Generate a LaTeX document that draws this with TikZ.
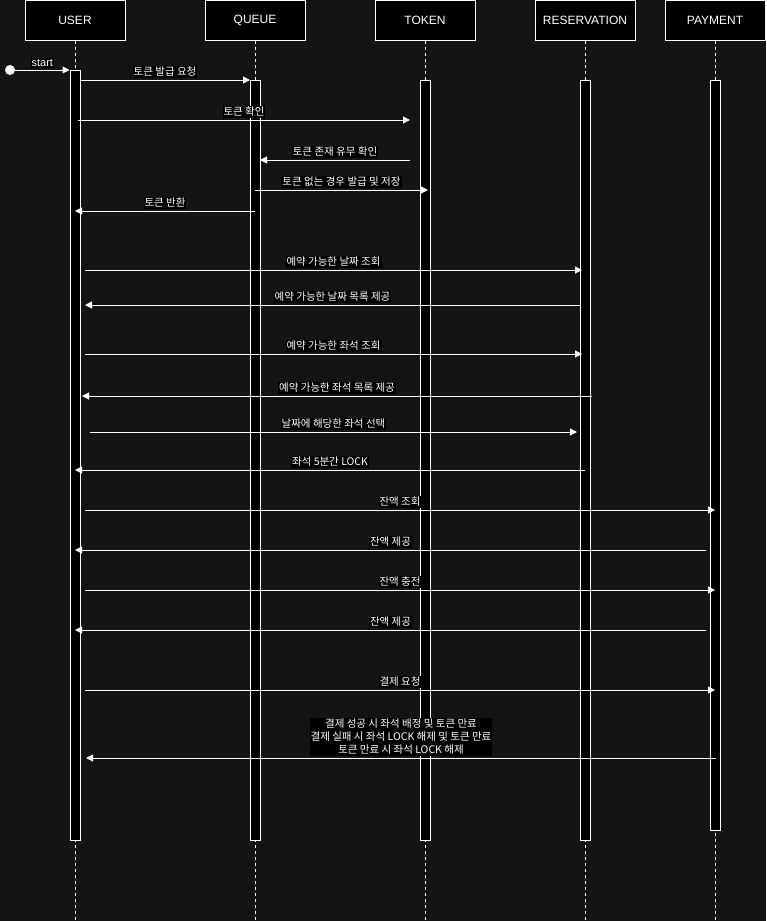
\documentclass[tikz,border=0pt]{standalone}
\usepackage{fontspec}
\setmainfont{Liberation Sans}
\newfontfamily\kr{Noto Sans CJK KR}
\usetikzlibrary{arrows.meta,positioning}
\definecolor{canvas}{RGB}{20,20,20}

\begin{document}
\begin{tikzpicture}[
  x=1pt, y=-1pt,
  >={Triangle[length=7pt,width=7pt]},
  actor/.style={draw=white, fill=black, line width=1pt, minimum width=100pt,
                minimum height=40pt, text=white, font=\fontsize{12}{14}\selectfont},
  bar/.style={draw=white, fill=black, line width=1pt, minimum width=10pt,
              anchor=north, inner sep=0pt},
  life/.style={draw=white, line width=0.8pt, dash pattern=on 3pt off 3pt},
  msg/.style={draw=white, line width=1pt, ->},
  lbl/.style={fill=black, text=white, inner sep=1pt, above=2pt, align=center,
              font=\kr\fontsize{10.5}{13}\selectfont}
]
\fill[canvas] (0,0) rectangle (766,921);
\useasboundingbox (0,0) rectangle (766,921);
\coordinate (bottom) at (0,921);

% participants
\node[actor] (user)        at (75,20.5)  {USER};
\node[actor] (queue)       at (255,20.5) {QUEUE};
\node[actor] (token)       at (425,20.5) {TOKEN};
\node[actor] (reservation) at (585,20.5) {RESERVATION};
\node[actor] (payment)     at (715,20.5) {PAYMENT};

\foreach \p in {user,queue,token,reservation,payment}
  \draw[life] (\p.south) -- (\p.south |- bottom);

% activations
\node[bar, minimum height=770pt] (userbar)        at (75,70)  {};
\node[bar, minimum height=760pt] (queuebar)       at (255,80) {};
\node[bar, minimum height=760pt] (tokenbar)       at (425,80) {};
\node[bar, minimum height=760pt] (reservationbar) at (585,80) {};
\node[bar, minimum height=750pt] (paymentbar)     at (715,80) {};

% start
\node[circle, fill=white, minimum size=10pt, inner sep=0pt] (start) at (10,70) {};
\draw[msg] (start) -- node[lbl, font=\fontsize{11}{13}\selectfont] {start} (userbar.north west);

% message ends
\coordinate (m1a) at (80,80);    \coordinate (m1b) at (250,80);
\coordinate (m2a) at (78,120);   \coordinate (m2b) at (410,120);
\coordinate (m3a) at (410,160);  \coordinate (m3b) at (260,160);
\coordinate (m4a) at (255,190);  \coordinate (m4b) at (428,190);
\coordinate (m5a) at (255,211);  \coordinate (m5b) at (75,211);
\coordinate (m6a) at (85,270);   \coordinate (m6b) at (582,270);
\coordinate (m7a) at (580,305);  \coordinate (m7b) at (85,305);
\coordinate (m8a) at (85,354);   \coordinate (m8b) at (582,354);
\coordinate (m9a) at (592,396);  \coordinate (m9b) at (82,396);
\coordinate (m10a) at (90,432);  \coordinate (m10b) at (577,432);
\coordinate (m11a) at (585,470); \coordinate (m11b) at (75,470);
\coordinate (m12a) at (85,510);  \coordinate (m12b) at (715,510);
\coordinate (m13a) at (706,550); \coordinate (m13b) at (75,550);
\coordinate (m14a) at (85,590);  \coordinate (m14b) at (715,590);
\coordinate (m15a) at (706,630); \coordinate (m15b) at (75,630);
\coordinate (m16a) at (85,690);  \coordinate (m16b) at (715,690);
\coordinate (m17a) at (716,758); \coordinate (m17b) at (86,758);

% messages
\draw[msg] (m1a) -- node[lbl] {토큰 발급 요청} (m1b);
\draw[msg] (m2a) -- node[lbl] {토큰 확인} (m2b);
\draw[msg] (m3a) -- node[lbl] {토큰 존재 유무 확인} (m3b);
\draw[msg] (m4a) -- node[lbl] {토큰 없는 경우 발급 및 저장} (m4b);
\draw[msg] (m5a) -- node[lbl] {토큰 반환} (m5b);
\draw[msg] (m6a) -- node[lbl] {예약 가능한 날짜 조회} (m6b);
\draw[msg] (m7a) -- node[lbl] {예약 가능한 날짜 목록 제공} (m7b);
\draw[msg] (m8a) -- node[lbl] {예약 가능한 좌석 조회} (m8b);
\draw[msg] (m9a) -- node[lbl] {예약 가능한 좌석 목록 제공} (m9b);
\draw[msg] (m10a) -- node[lbl] {날짜에 해당한 좌석 선택} (m10b);
\draw[msg] (m11a) -- node[lbl] {좌석 5분간 LOCK} (m11b);
\draw[msg] (m12a) -- node[lbl] {잔액 조회} (m12b);
\draw[msg] (m13a) -- node[lbl] {잔액 제공} (m13b);
\draw[msg] (m14a) -- node[lbl] {잔액 충전} (m14b);
\draw[msg] (m15a) -- node[lbl] {잔액 제공} (m15b);
\draw[msg] (m16a) -- node[lbl] {결제 요청} (m16b);
\draw[msg] (m17a) -- node[lbl] {결제 성공 시 좌석 배정 및 토큰 만료\\
  결제 실패 시 좌석 LOCK 해제 및 토큰 만료\\토큰 만료 시 좌석 LOCK 해제} (m17b);
\end{tikzpicture}
\end{document}
